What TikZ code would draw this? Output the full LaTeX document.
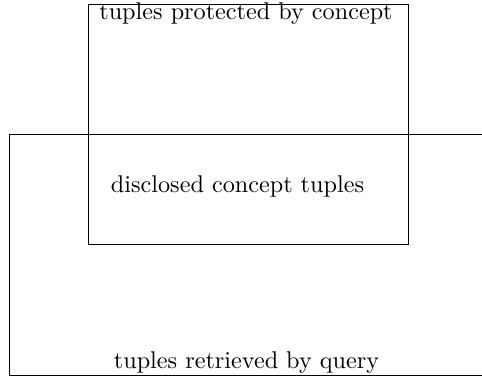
\documentclass[tikz,border=0pt]{standalone}
\begin{document}
\begin{tikzpicture}[x=1pt,y=-1pt,
  setline/.style={line width=0.9pt,black},
  lbl/.style={anchor=base,inner sep=0pt,scale=2.42,font=\fontsize{10}{12}\selectfont}]
\useasboundingbox (0,0) rectangle (482,381);
% set of tuples protected by concept
\draw[setline] (88,4.5) rectangle (408,244);
% set of tuples retrieved by query (open on the right)
\draw[setline] (482,134) -- (9,134) -- (9,375) -- (482,375);
\node[lbl] (protected) at (246,19) {tuples protected by concept};
\node[lbl] (disclosed) at (237.5,192) {disclosed concept tuples};
\node[lbl] (retrieved) at (246.5,368) {tuples retrieved by query};
\end{tikzpicture}
\end{document}
